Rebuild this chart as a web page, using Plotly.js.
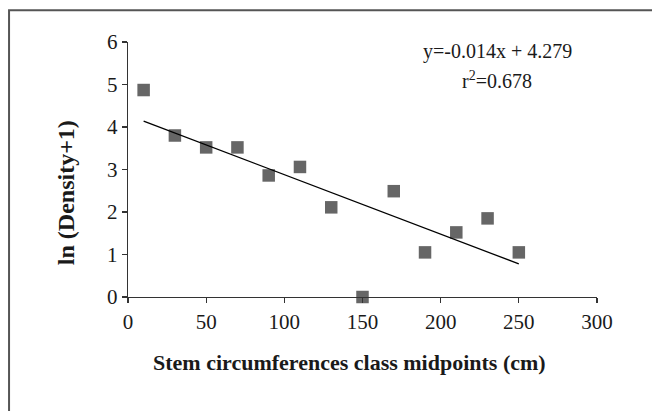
<!DOCTYPE html>
<html><head><meta charset="utf-8">
<script src="https://cdn.plot.ly/plotly-3.0.1.min.js"></script>
<style>html,body{margin:0;padding:0;background:#fff;}#chart{width:652px;height:411px;}</style>
</head><body><div id="chart"></div>
<script>
const midpoints = [10, 30, 50, 70, 90, 110, 130, 150, 170, 190, 210, 230, 250];
const lnDensity = [4.87, 3.80, 3.52, 3.52, 2.86, 3.06, 2.11, 0.0, 2.49, 1.05, 1.52, 1.85, 1.05];
const slope = -0.014;
const intercept = 4.279;
const r2 = 0.678;
const xTicks = [0, 50, 100, 150, 200, 250, 300];
const yTicks = [0, 1, 2, 3, 4, 5, 6];

const xMin = Math.min(...midpoints), xMax = Math.max(...midpoints);
const fitX = [xMin, xMax];
const fitY = fitX.map(x => slope * x + intercept);

const serif = 'Liberation Serif, Times New Roman, serif';
const data = [
  {x: midpoints, y: lnDensity, type: 'scatter', mode: 'markers', cliponaxis: false,
   marker: {symbol: 'square', size: 12.5, color: '#666666'}},
  {x: fitX, y: fitY, type: 'scatter', mode: 'lines', line: {color: '#000', width: 1.3}}
];
const layout = {
  width: 652, height: 411,
  margin: {l: 128.3, r: 55.3, t: 42.3, b: 114.3},
  paper_bgcolor: '#fff', plot_bgcolor: '#fff',
  showlegend: false,
  font: {family: serif, color: '#1a1a1a'},
  xaxis: {range: [0, 300], tickvals: xTicks, ticktext: xTicks.map(String),
    showgrid: false, zeroline: false, showline: true, linecolor: '#333', linewidth: 1.3,
    ticks: 'outside', ticklen: 5, tickcolor: '#333', tickwidth: 1.3,
    tickfont: {family: serif, size: 21, color: '#1a1a1a'}},
  yaxis: {range: [0, 6], tickvals: yTicks, ticktext: yTicks.map(String),
    showgrid: false, zeroline: false, showline: true, linecolor: '#333', linewidth: 1.3,
    ticks: 'outside', ticklen: 5, tickcolor: '#333', tickwidth: 1.3,
    tickfont: {family: serif, size: 21, color: '#1a1a1a'}},
  annotations: [
    {xref: 'paper', yref: 'paper', x: (497 - 128.3) / 468.4, y: (296.7 - 52) / 254.4,
     text: 'y=' + slope.toFixed(3) + 'x + ' + intercept.toFixed(3), showarrow: false,
     font: {family: serif, size: 20, color: '#1a1a1a'}, xanchor: 'center', yanchor: 'middle'},
    {xref: 'paper', yref: 'paper', x: (497 - 128.3) / 468.4, y: (296.7 - 80) / 254.4,
     text: 'r<sup>2</sup>=' + r2.toFixed(3), showarrow: false,
     font: {family: serif, size: 20, color: '#1a1a1a'}, xanchor: 'center', yanchor: 'middle'},
    {xref: 'paper', yref: 'paper', x: (66.5 - 128.3) / 468.4, y: (296.7 - 193) / 254.4,
     text: '<b>ln (Density+1)</b>', textangle: -90, showarrow: false,
     font: {family: serif, size: 24, color: '#1a1a1a'}, xanchor: 'center', yanchor: 'middle'},
    {xref: 'paper', yref: 'paper', x: (350 - 128.3) / 468.4, y: (296.7 - 362) / 254.4,
     text: '<b>Stem circumferences class midpoints (cm)</b>', showarrow: false,
     font: {family: serif, size: 22, color: '#1a1a1a'}, xanchor: 'center', yanchor: 'middle'}
  ],
  shapes: [
    {type: 'rect', xref: 'paper', yref: 'paper',
     x0: (9.5 - 128.3) / 468.4, x1: (670 - 128.3) / 468.4,
     y0: (296.7 - 430) / 254.4, y1: (296.7 - 10.5) / 254.4,
     line: {color: '#555', width: 2}, fillcolor: 'rgba(0,0,0,0)'}
  ]
};
Plotly.newPlot('chart', data, layout, {displayModeBar: false, staticPlot: true});
</script></body></html>
